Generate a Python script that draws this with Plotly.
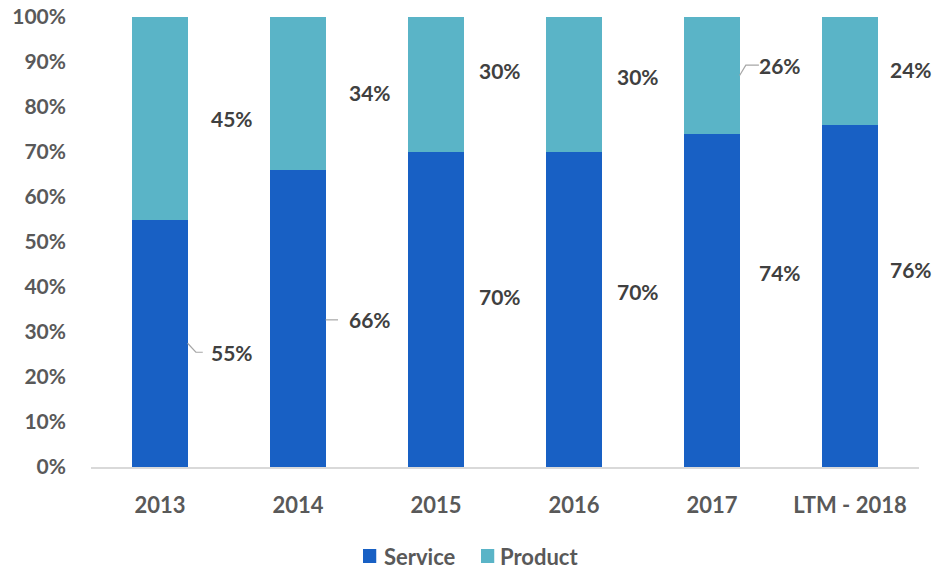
import plotly.graph_objects as go

categories = ["2013", "2014", "2015", "2016", "2017", "LTM - 2018"]
service = [55, 66, 70, 70, 74, 76]
product = [45, 34, 30, 30, 26, 24]
series_names = ["Service", "Product"]
tick_vals = [0, 10, 20, 30, 40, 50, 60, 70, 80, 90, 100]
tick_text = [f"{v}%" for v in tick_vals]

# label nudges (in percent units) relative to segment midpoints
service_nudge = [-2.0, -0.3, 2.8, 4.1, 6.3, 5.8]
product_nudge = [0.0, 0.3, 3.2, 1.7, 2.3, 0.4]
label_xshift = [72, 72, 64, 64, 68, 61]

SERVICE_C = "#1860C4"
PRODUCT_C = "#5AB4C7"
FONT = "Lato"
colors = [SERVICE_C, PRODUCT_C]

fig = go.Figure()
fig.add_trace(go.Bar(name=series_names[0], x=categories, y=service, marker=dict(color=SERVICE_C, line=dict(width=0))))
fig.add_trace(go.Bar(name=series_names[1], x=categories, y=product, marker=dict(color=PRODUCT_C, line=dict(width=0))))

annotations = []
for i, c in enumerate(categories):
    ys = service[i] / 2 + service_nudge[i]
    yp = service[i] + product[i] / 2 + product_nudge[i]
    for y, val in ((ys, service[i]), (yp, product[i])):
        annotations.append(dict(x=i, y=y, xref="x", yref="y", text=f"{val}%",
                                showarrow=False, xshift=label_xshift[i],
                                font=dict(family=FONT, size=21, color="#404040", weight="bold")))

# leader lines (category index units)
half = 0.2
leaders = [
    [(0 + half, service[0] / 2), (0 + half + 0.06, service[0] / 2 + service_nudge[0]), (0 + half + 0.11, service[0] / 2 + service_nudge[0])],
    [(1 + half, service[1] / 2 + service_nudge[1]), (1 + half + 0.09, service[1] / 2 + service_nudge[1])],
    [(4 + half, service[4] + product[4] / 2), (4 + half + 0.045, service[4] + product[4] / 2 + product_nudge[4]), (4 + half + 0.14, service[4] + product[4] / 2 + product_nudge[4])],
]
shapes = []
for pts in leaders:
    path = "M " + " L ".join(f"{x},{y}" for x, y in pts)
    shapes.append(dict(type="path", path=path, xref="x", yref="y",
                       line=dict(color="#A6A6A6", width=1.2)))

# manual legend (paper coords) so it does not push the plot margins
legend_sq_x = [0.3285, 0.4710]
legend_sq_w = 0.0160
legend_txt_x = [0.3527, 0.4928]
for name, col, sx, tx in zip(series_names, colors, legend_sq_x, legend_txt_x):
    shapes.append(dict(type="rect", xref="paper", yref="paper", x0=sx, x1=sx + legend_sq_w,
                       y0=-0.2133, y1=-0.1822, fillcolor=col, line=dict(width=0)))
    annotations.append(dict(x=tx, y=-0.1978, xref="paper", yref="paper", text=name,
                            showarrow=False, xanchor="left", yanchor="middle", borderpad=0,
                            font=dict(family=FONT, size=22, color="#595959", weight="bold")))

fig.update_layout(
    barmode="stack",
    bargap=0.6,
    width=933, height=573,
    margin=dict(l=91, r=14, t=17, b=106, autoexpand=False),
    plot_bgcolor="white", paper_bgcolor="white",
    font=dict(family=FONT, color="#595959"),
    annotations=annotations,
    shapes=shapes,
    showlegend=False,
    xaxis=dict(type="category", range=[-0.5, 5.5], showgrid=False, showline=True,
               linecolor="#D9D9D9", linewidth=1.5, automargin=False,
               ticks="", tickfont=dict(family=FONT, size=22, color="#595959", weight="bold"),
               ticklabelstandoff=18, fixedrange=True),
    yaxis=dict(range=[0, 100], tickvals=tick_vals, ticktext=tick_text, showgrid=False,
               zeroline=False, showline=False, ticks="", automargin=False,
               tickfont=dict(family=FONT, size=21, color="#595959", weight="bold"),
               ticklabelstandoff=24, fixedrange=True),
)
fig.update_traces(hoverinfo="skip")

fig.write_html("out.html")
